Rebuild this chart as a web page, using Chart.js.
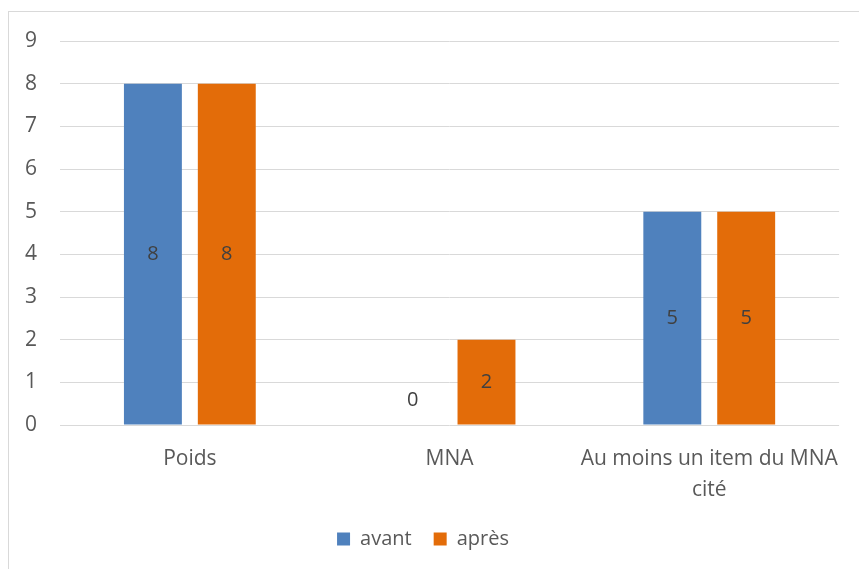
<!DOCTYPE html>
<html>
<head>
<meta charset="utf-8">
<script src="https://cdn.jsdelivr.net/npm/chart.js@4"></script>
<style>
  html, body { margin: 0; padding: 0; background: #fff; }
  #frame { position: absolute; left: 8px; top: 11px; width: 900px; height: 600px; border: 1px solid #d9d9d9; }
  #wrap { position: absolute; left: 0; top: 0; width: 859px; height: 569px; }
</style>
</head>
<body>
<div id="frame"></div>
<div id="wrap"><canvas id="mainChart" width="859" height="569"></canvas></div>
<script>
// categories and series
const categories = ['Poids', 'MNA', ['Au moins un item du MNA', 'cité']];
const avant = [8, 0, 5];
const apres = [8, 2, 5];
const yTicks = [0, 1, 2, 3, 4, 5, 6, 7, 8, 9];

const FONT = "'Open Sans', 'Noto Sans', sans-serif";

// labels in the middle of each bar, zero values drawn just above the axis
const barLabels = {
  id: 'barLabels',
  afterDatasetsDraw(chart) {
    const ctx = chart.ctx;
    ctx.save();
    ctx.font = '20px ' + FONT;
    ctx.fillStyle = '#404040';
    ctx.textAlign = 'center';
    ctx.textBaseline = 'middle';
    chart.data.datasets.forEach((ds, i) => {
      chart.getDatasetMeta(i).data.forEach((bar, j) => {
        const v = ds.data[j];
        let y = (bar.y + bar.base) / 2;
        if (v === 0) y = bar.base - 25;
        ctx.fillText(String(v), bar.x, y);
      });
    });
    ctx.restore();
  }
};

const ctx = document.getElementById('mainChart').getContext('2d');
new Chart(ctx, {
  type: 'bar',
  data: {
    labels: categories,
    datasets: [
      { label: 'avant', data: avant, backgroundColor: '#4F81BD', categoryPercentage: 0.569, barPercentage: 0.784 },
      { label: 'après', data: apres, backgroundColor: '#E36C09', categoryPercentage: 0.569, barPercentage: 0.784 }
    ]
  },
  options: {
    responsive: false,
    animation: false,
    layout: { padding: { left: 0, right: 13, top: 41, bottom: 10 } },
    plugins: {
      tooltip: { enabled: false },
      legend: {
        position: 'bottom',
        labels: {
          boxWidth: 13, boxHeight: 13, padding: 22,
          color: '#595959',
          font: { family: FONT, size: 20 }
        }
      }
    },
    scales: {
      x: {
        afterFit(scale) { scale.height = 82; },
        grid: { display: false, drawTicks: false },
        border: { display: false },
        ticks: { color: '#595959', padding: 19, maxRotation: 0, font: { family: FONT, size: 21, lineHeight: 1.45 } }
      },
      y: {
        min: 0, max: 9,
        afterFit(scale) { scale.width = 60; },
        afterBuildTicks(scale) { scale.ticks = yTicks.map(v => ({ value: v })); },
        grid: { color: '#d9d9d9', lineWidth: 1, drawTicks: false },
        border: { display: false },
        ticks: { color: '#595959', padding: 23, font: { family: FONT, size: 21 } }
      }
    }
  },
  plugins: [barLabels]
});
</script>
</body>
</html>
